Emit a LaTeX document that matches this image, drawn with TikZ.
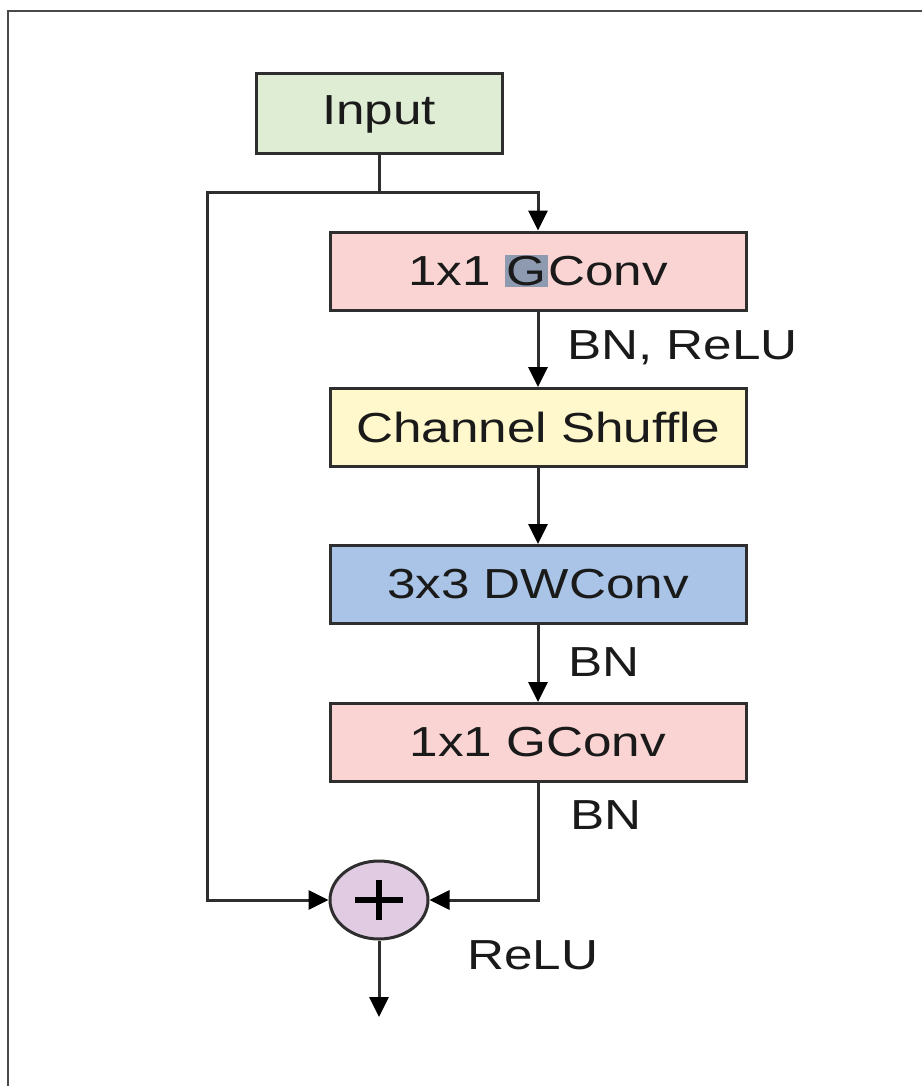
\documentclass[tikz,border=0pt]{standalone}
\usepackage{fontspec}
\setmainfont[FakeStretch=1.22]{Liberation Sans}
\usetikzlibrary{arrows.meta,shapes.geometric,calc}

\definecolor{inputfill}{HTML}{DFEDD5}
\definecolor{gconvfill}{HTML}{F9D4D3}
\definecolor{shufflefill}{HTML}{FFF8CC}
\definecolor{dwfill}{HTML}{A9C4E7}
\definecolor{sumfill}{HTML}{E1CBE3}
\definecolor{edgegray}{HTML}{2E2E2E}
\definecolor{framegray}{HTML}{4A4A4A}
\definecolor{inktext}{HTML}{1A1A1A}
\definecolor{markfill}{HTML}{8D9AB0}

\begin{document}
\begin{tikzpicture}[x=1pt,y=-1pt,
  txt/.style={font=\fontsize{42}{48}\selectfont, text=inktext},
  layer/.style={txt, draw=edgegray, line width=3pt, rectangle,
    minimum width=416pt, minimum height=78pt, inner sep=0pt},
  conn/.style={draw=edgegray, line width=3pt},
  flow/.style={conn, -{Triangle[width=19pt,length=20pt,color=black]}},
  note/.style={txt, anchor=west, inner sep=0pt},
]
\useasboundingbox (0,0) rectangle (922,1086);

% outer frame (only top and left edges fall inside the page)
\draw[framegray, line width=2.5pt] (8,1086) -- (8,11) -- (922,11);

% blocks of the unit
\node[layer, fill=inputfill, minimum width=246pt, minimum height=80pt] (in) at (379,114) {Input};
\node[layer, fill=gconvfill] (g1) at (538,271)
  {1x1 {\setlength\fboxsep{1.5pt}\colorbox{markfill}{G}}Conv};
\node[layer, fill=shufflefill] (cs) at (538,427.5) {Channel Shuffle};
\node[layer, fill=dwfill] (dw) at (538,584.5) {3x3 DWConv};
\node[layer, fill=gconvfill] (g2) at (538,742.5) {1x1 GConv};
\node[ellipse, draw=edgegray, line width=3pt, fill=sumfill,
  minimum width=98pt, minimum height=78pt, inner sep=0pt] (sum) at (379,900) {};

% plus sign inside the sum node
\draw[black, line width=5.5pt] ($(sum.center)+(-24,0)$) -- ($(sum.center)+(24,0)$);
\draw[black, line width=5.5pt] ($(sum.center)+(0,-20)$) -- ($(sum.center)+(0,20)$);

% branch points
\coordinate (split) at (379,193);
\coordinate (skipL) at (207,900);
\coordinate (out) at (379,1017);

% connectors
\draw[conn] (in.south) -- (split);
\draw[flow] (split) -| (g1.north);
\draw[flow] (g1.south) -- (cs.north);
\draw[flow] (cs.south) -- (dw.north);
\draw[flow] (dw.south) -- (g2.north);
\draw[flow] (g2.south) |- (sum.east);
\draw[flow] (split) -| (skipL) -- (sum.west);
\draw[flow] (sum.south) -- (out);

% activation labels
\node[note] (l1) at (567,348) {BN, ReLU};
\node[note] (l2) at (568,662) {BN};
\node[note] (l3) at (570,815) {BN};
\node[note] (l4) at (467,955) {ReLU};
\end{tikzpicture}
\end{document}
